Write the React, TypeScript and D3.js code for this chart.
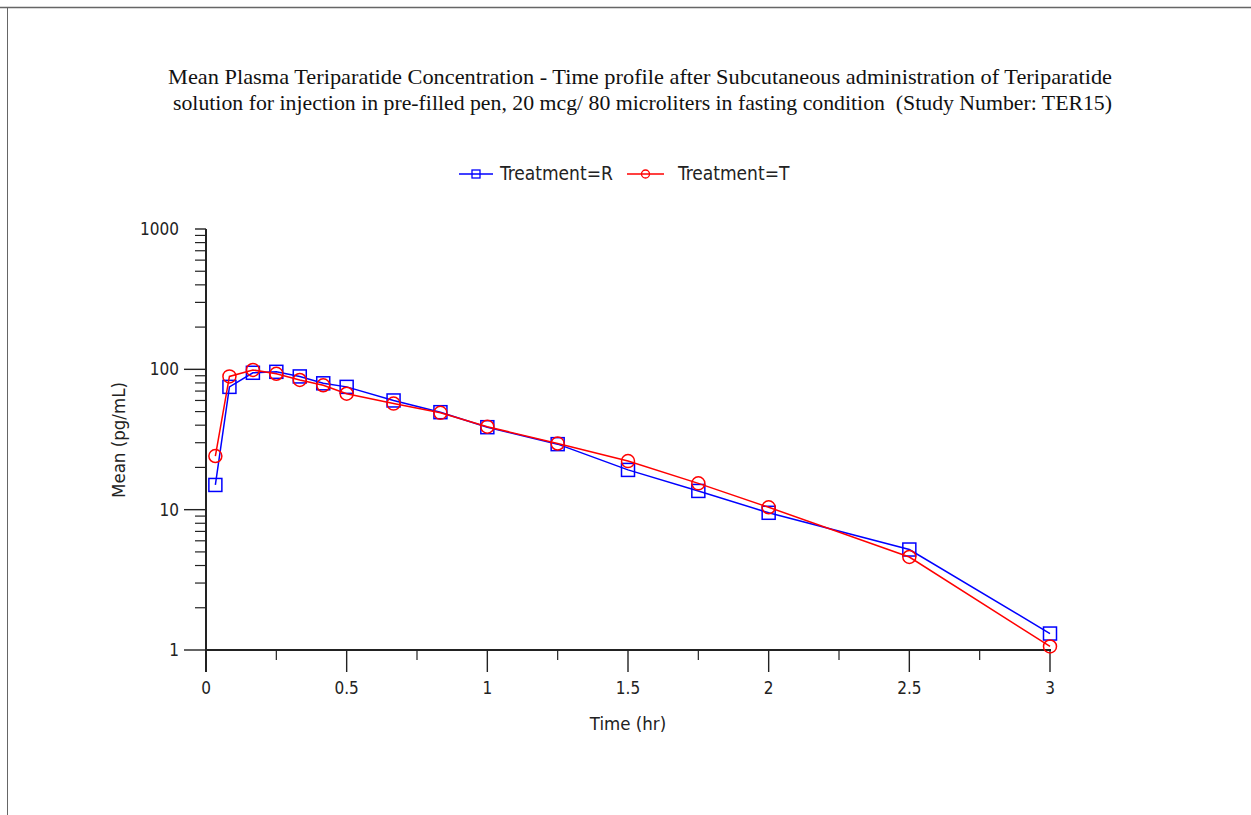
import React from "react";
import * as d3 from "d3";

const titleLines = [
  "Mean Plasma Teriparatide Concentration - Time profile after Subcutaneous administration of Teriparatide",
  "solution for injection in pre-filled pen, 20 mcg/ 80 microliters in fasting condition  (Study Number: TER15)",
];
const timeR = [0.0333, 0.0833, 0.1667, 0.25, 0.3333, 0.4167, 0.5, 0.6667, 0.8333, 1, 1.25, 1.5, 1.75, 2, 2.5, 3];
const meanR = [15.0, 75, 94.5, 96, 89, 79.5, 75, 60, 49.5, 38.7, 29.3, 19.2, 13.6, 9.5, 5.2, 1.31];
const timeT = [0.0333, 0.0833, 0.1667, 0.25, 0.3333, 0.4167, 0.5, 0.6667, 0.8333, 1, 1.25, 1.5, 1.75, 2, 2.5, 3];
const meanT = [24.1, 89, 99, 93, 84, 77, 67, 57, 49, 39, 29.6, 22.2, 15.4, 10.4, 4.6, 1.06];
const xTicks = [0, 0.5, 1, 1.5, 2, 2.5, 3];
const xMinorTicks = [0.25, 0.75, 1.25, 1.75, 2.25, 2.75];
const yTicks = [1, 10, 100, 1000];
const seriesNames = ["Treatment=R", "Treatment=T"];

const W = 1251;
const H = 815;
const sans = "'DejaVu Sans Condensed', 'DejaVu Sans', sans-serif";
const serif = "'Liberation Serif', 'Times New Roman', serif";

export default function App() {
  const x = d3.scaleLinear().domain([0, 3]).range([206, 1050]);
  const y = d3.scaleLog().domain([1, 1000]).range([650, 229]);
  const line = d3
    .line<[number, number]>()
    .x((d) => x(d[0]))
    .y((d) => y(d[1]));
  const dataR: [number, number][] = timeR.map((t, i) => [t, meanR[i]]);
  const dataT: [number, number][] = timeT.map((t, i) => [t, meanT[i]]);

  const minorY: number[] = [];
  [1, 10, 100].forEach((dec) => {
    for (let k = 2; k <= 9; k++) minorY.push(dec * k);
  });

  const axisColor = "#222";
  const blue = "#0000ff";
  const red = "#ff0000";

  return (
    <svg
      width={W}
      height={H}
      style={{ position: "absolute", left: 0, top: 0, background: "#fff" }}
    >
      <rect x={0} y={0} width={W} height={H} fill="#fff" />
      {/* frame lines */}
      <line x1={0} x2={W} y1={7.5} y2={7.5} stroke="#666" strokeWidth={1.5} />
      <line x1={7.5} x2={7.5} y1={7} y2={H} stroke="#666" strokeWidth={1} />

      {/* title */}
      <text
        x={640}
        y={84}
        textAnchor="middle"
        fontFamily={serif}
        fontSize={22}
        fill="#111"
        textLength={944}
        lengthAdjust="spacingAndGlyphs"
      >
        {titleLines[0]}
      </text>
      <text
        x={642.5}
        y={110}
        textAnchor="middle"
        fontFamily={serif}
        fontSize={22}
        fill="#111"
        textLength={939}
        lengthAdjust="spacingAndGlyphs"
        style={{ whiteSpace: "pre" }}
      >
        {titleLines[1]}
      </text>

      {/* legend */}
      <g>
        <line x1={459} x2={493} y1={174} y2={174} stroke={blue} strokeWidth={1.5} />
        <rect x={472} y={170} width={8} height={8} fill="none" stroke={blue} strokeWidth={1.3} />
        <text x={500} y={180} fontFamily={sans} fontSize={19} fill="#222">
          {seriesNames[0]}
        </text>
        <line x1={627} x2={664} y1={174} y2={174} stroke={red} strokeWidth={1.5} />
        <circle cx={645.5} cy={174} r={4} fill="none" stroke={red} strokeWidth={1.3} />
        <text x={678} y={180} fontFamily={sans} fontSize={19} fill="#222">
          {seriesNames[1]}
        </text>
      </g>

      {/* y axis */}
      <line x1={206} x2={206} y1={y(1000)} y2={672} stroke={axisColor} strokeWidth={2} />
      {minorY.map((v) => (
        <line key={"my" + v} x1={195} x2={206} y1={y(v)} y2={y(v)} stroke={axisColor} strokeWidth={1.2} />
      ))}
      {yTicks.map((v) => (
        <g key={"y" + v}>
          <line
            x1={v === 1000 ? 195 : 184}
            x2={206}
            y1={y(v)}
            y2={y(v)}
            stroke={axisColor}
            strokeWidth={1.4}
          />
          <text
            x={179}
            y={y(v) + 6}
            textAnchor="end"
            fontFamily={sans}
            fontSize={17}
            fill="#222"
          >
            {v}
          </text>
        </g>
      ))}
      <text
        transform={`translate(125,${y(1) - 210}) rotate(-90)`}
        textAnchor="middle"
        fontFamily={sans}
        fontSize={18.5}
        fill="#222"
      >
        Mean (pg/mL)
      </text>

      {/* x axis */}
      <line x1={206} x2={1051} y1={650} y2={650} stroke={axisColor} strokeWidth={2.2} />
      {xMinorTicks.map((v) => (
        <line key={"mx" + v} x1={x(v)} x2={x(v)} y1={650} y2={660} stroke={axisColor} strokeWidth={1.2} />
      ))}
      {xTicks.map((v) => (
        <g key={"x" + v}>
          <line x1={x(v)} x2={x(v)} y1={650} y2={672} stroke={axisColor} strokeWidth={1.4} />
          <text x={x(v)} y={694} textAnchor="middle" fontFamily={sans} fontSize={17} fill="#222">
            {d3.format("")(v)}
          </text>
        </g>
      ))}
      <text x={628} y={730} textAnchor="middle" fontFamily={sans} fontSize={18.5} fill="#222">
        Time (hr)
      </text>

      {/* series R */}
      <path d={line(dataR) || ""} fill="none" stroke={blue} strokeWidth={1.5} />
      {dataR.map((d, i) => (
        <rect
          key={"r" + i}
          x={x(d[0]) - 6.5}
          y={y(d[1]) - 6.5}
          width={13}
          height={13}
          fill="none"
          stroke={blue}
          strokeWidth={1.5}
        />
      ))}
      {/* series T */}
      <path d={line(dataT) || ""} fill="none" stroke={red} strokeWidth={1.5} />
      {dataT.map((d, i) => (
        <circle
          key={"t" + i}
          cx={x(d[0])}
          cy={y(d[1])}
          r={6.5}
          fill="none"
          stroke={red}
          strokeWidth={1.5}
        />
      ))}
    </svg>
  );
}
